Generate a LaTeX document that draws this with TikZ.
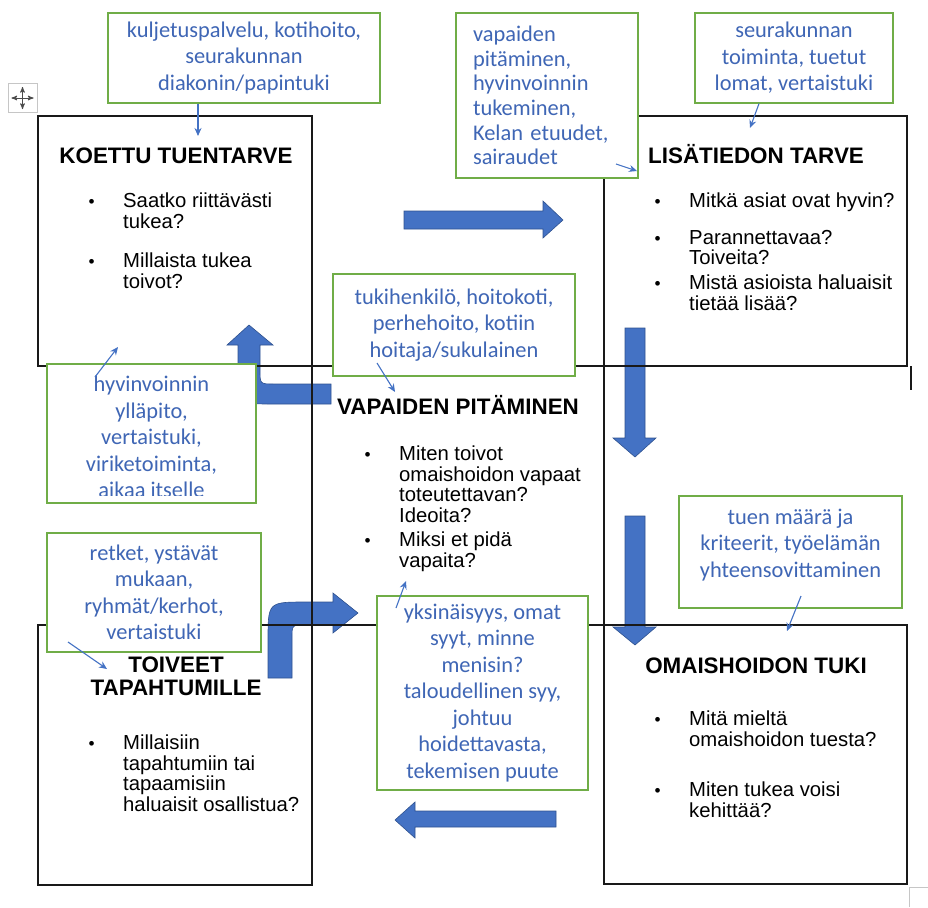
\documentclass[tikz,border=0pt]{standalone}
\usepackage{fontspec}
\setmainfont{Liberation Sans}
\newfontfamily\calibri{Carlito}
\usepackage{xcolor}
\usepackage{tikz}
\usetikzlibrary{arrows,arrows.meta,positioning,shapes}

\definecolor{wordblue}{HTML}{4472C4}
\definecolor{wordblueedge}{HTML}{2F528F}
\definecolor{notegreen}{HTML}{70AD47}
\definecolor{notetext}{HTML}{3F66B5}

\newcommand{\qbullet}{\llap{\scalebox{0.85}{\textbullet}\hspace{28.5pt}}}

\begin{document}
\begin{tikzpicture}[x=1pt,y=-1pt,
  cell/.style={draw=black!90,line width=1.6pt,inner sep=0pt},
  heading/.style={font=\fontsize{22.4}{23}\selectfont\bfseries,align=center,inner sep=0pt},
  question/.style={font=\fontsize{20.3}{20.5}\selectfont,align=left,anchor=north west,inner sep=0pt},
  note/.style={draw=notegreen,line width=1.3pt,fill=white,text=notetext,align=center,
    font=\calibri\fontsize{22.4}{26.5}\selectfont,inner sep=2pt},
  notetxt/.style={text=notetext,align=center,inner sep=0pt,
    font=\calibri\fontsize{22.4}{26.5}\selectfont},
  link/.style={-{Stealth[length=8pt,width=7pt]},wordblue,line width=1.1pt},
  block/.style={fill=wordblue,draw=wordblueedge,line width=0.6pt}]

    \useasboundingbox (0,0) rectangle (928,907);

    % block arrows (behind the table lines)
    \fill[block] (404,211) -- (543,211) -- (543,201) -- (563,220) -- (543,238) -- (543,229) -- (404,229) -- cycle;
    \fill[block] (625,328) -- (645,328) -- (645,438) -- (656,438) -- (635,457) -- (613,438) -- (625,438) -- cycle;
    \fill[block] (625,516) -- (645,516) -- (645,627) -- (656,627) -- (635,645) -- (613,627) -- (625,627) -- cycle;
    \fill[block] (556,811) -- (415,811) -- (415,802) -- (395,820) -- (415,838) -- (415,827) -- (556,827) -- cycle;
    \fill[block] (331,384) -- (274,384) .. controls (260,384) .. (260,370) -- (260,345) -- (273,345)
        -- (249,325) -- (227,345) -- (238,345) -- (238,370) .. controls (238,404) .. (272,404) -- (331,404) -- cycle;
    \fill[block] (268,678) -- (268,640) .. controls (268,602) .. (306,602) -- (333,602) -- (333,593)
        -- (358,613) -- (333,633) -- (333,625) -- (305,625) .. controls (292,625) .. (292,638) -- (292,678) -- cycle;

    % table cells
    \node[cell,minimum width=274pt,minimum height=250pt] (koettu) at (175,241) {};
    \node[cell,minimum width=303pt,minimum height=250pt] (lisatieto) at (755.5,241) {};
    \node[cell,minimum width=292pt,minimum height=259pt] (vapaat) at (458,495.5) {};
    \node[cell,minimum width=274pt,minimum height=260pt] (toiveet) at (175,755) {};
    \node[cell,minimum width=303pt,minimum height=259pt] (tuki) at (755.5,754.5) {};
    \draw[black!90,line width=1.6pt] (911,366) -- (911,390);

    \node[heading,anchor=base] (koettuH) at (176,163) {KOETTU TUENTARVE};
    \node[question] (k1) at (123,193) {\qbullet Saatko riittävästi\\tukea?};
    \node[question] (k2) at (123,253) {\qbullet Millaista tukea\\toivot?};

    \node[heading,anchor=base] (lisatietoH) at (756,163) {LISÄTIEDON TARVE};
    \node[question] (l1) at (689,193) {\qbullet Mitkä asiat ovat hyvin?};
    \node[question] (l2) at (689,230) {\qbullet Parannettavaa?\\Toiveita?};
    \node[question] (l3) at (689,275) {\qbullet Mistä asioista haluaisit\\tietää lisää?};

    \node[heading,anchor=base] (vapaatH) at (458,414) {VAPAIDEN PITÄMINEN};
    \node[question] (v1) at (399,446) {\qbullet Miten toivot\\omaishoidon vapaat\\toteutettavan?\\Ideoita?};
    \node[question] (v2) at (399,532) {\qbullet Miksi et pidä\\vapaita?};

    \node[heading,anchor=north] (toiveetH) at (176,657) {TOIVEET\\TAPAHTUMILLE};
    \node[question] (t1) at (123,735) {\qbullet Millaisiin\\tapahtumiin tai\\tapaamisiin\\haluaisit osallistua?};

    \node[heading,anchor=base] (tukiH) at (756,673) {OMAISHOIDON TUKI};
    \node[question] (o1) at (689,711) {\qbullet Mitä mieltä\\omaishoidon tuesta?};
    \node[question] (o2) at (689,782) {\qbullet Miten tukea voisi\\kehittää?};

    % green comment boxes
    \node[note,minimum width=272pt,minimum height=90pt] (kuljetus) at (244,58)
        {kuljetuspalvelu, kotihoito,\\seurakunnan\\diakonin/papintuki};
    \node[note,align=left,text width=148pt,inner xsep=17pt,minimum height=165pt,
        font=\calibri\fontsize{22.4}{24.6}\selectfont] (etuudet) at (547,95.5)
        {vapaiden\\pitäminen,\\hyvinvoinnin\\tukeminen,\\Kelan etuudet,\\sairaudet};
    \node[note,minimum width=198pt,minimum height=90pt] (seurakunta) at (794,58)
        {seurakunnan\\toiminta, tuetut\\lomat, vertaistuki};
    \node[note,minimum width=242pt,minimum height=102pt] (hoitaja) at (454,325)
        {tukihenkilö, hoitokoti,\\perhehoito, kotiin\\hoitaja/sukulainen};
    \node[note,minimum width=209pt,minimum height=139pt] (yllapito) at (151.5,433.5) {};
    \begin{scope}
      \clip (47,364) rectangle (256,495);
      \node[notetxt] (yllapitoT) at (151.5,437)
          {hyvinvoinnin\\ylläpito,\\vertaistuki,\\viriketoiminta,\\aikaa itselle};
    \end{scope}
    \node[note,minimum width=214pt,minimum height=119pt] (retket) at (154,592.5)
        {retket, ystävät\\mukaan,\\ryhmät/kerhot,\\vertaistuki};
    \node[note,minimum width=223pt,minimum height=112pt] (kriteerit) at (790.5,552) {};
    \node[notetxt] (kriteeritT) at (790.5,545)
        {tuen määrä ja\\kriteerit, työelämän\\yhteensovittaminen};
    \node[note,minimum width=211pt,minimum height=194pt] (syyt) at (482.5,693)
        {yksinäisyys, omat\\syyt, minne\\menisin?\\taloudellinen syy,\\johtuu\\hoidettavasta,\\tekemisen puute};

    % thin pointers
    \coordinate (p1) at (198,136);
    \coordinate (p2) at (637,171);
    \coordinate (p3) at (750,128);
    \coordinate (p4) at (395,392);
    \coordinate (p5) at (118,347);
    \coordinate (p6) at (107,669);
    \coordinate (p7) at (787,631);
    \coordinate (p8) at (406,581);
    \draw[link] (kuljetus.south -| p1) -- (p1);
    \draw[link] (616,164) -- (p2);
    \draw[link] (seurakunta.south -| 759,0) -- (p3);
    \draw[link] (377,363) -- (p4);
    \draw[link] (95,377) -- (p5);
    \draw[link] (68,642) -- (p6);
    \draw[link] (801,596) -- (p7);
    \draw[link] (396,608) -- (p8);

    % word table handles
    \node[draw=gray!45,line width=1pt,minimum size=29pt,inner sep=0pt] (grip) at (22.5,98) {};
    \draw[<->,>=stealth',gray!60!black,line width=1pt] ([xshift=4pt]grip.west) -- ([xshift=-4pt]grip.east);
    \draw[<->,>=stealth',gray!60!black,line width=1pt] ([yshift=-4pt]grip.north) -- ([yshift=4pt]grip.south);
    \draw[gray!45,line width=1pt] (909,907) -- (909,887) -- (928,887);
\end{tikzpicture}
\end{document}
